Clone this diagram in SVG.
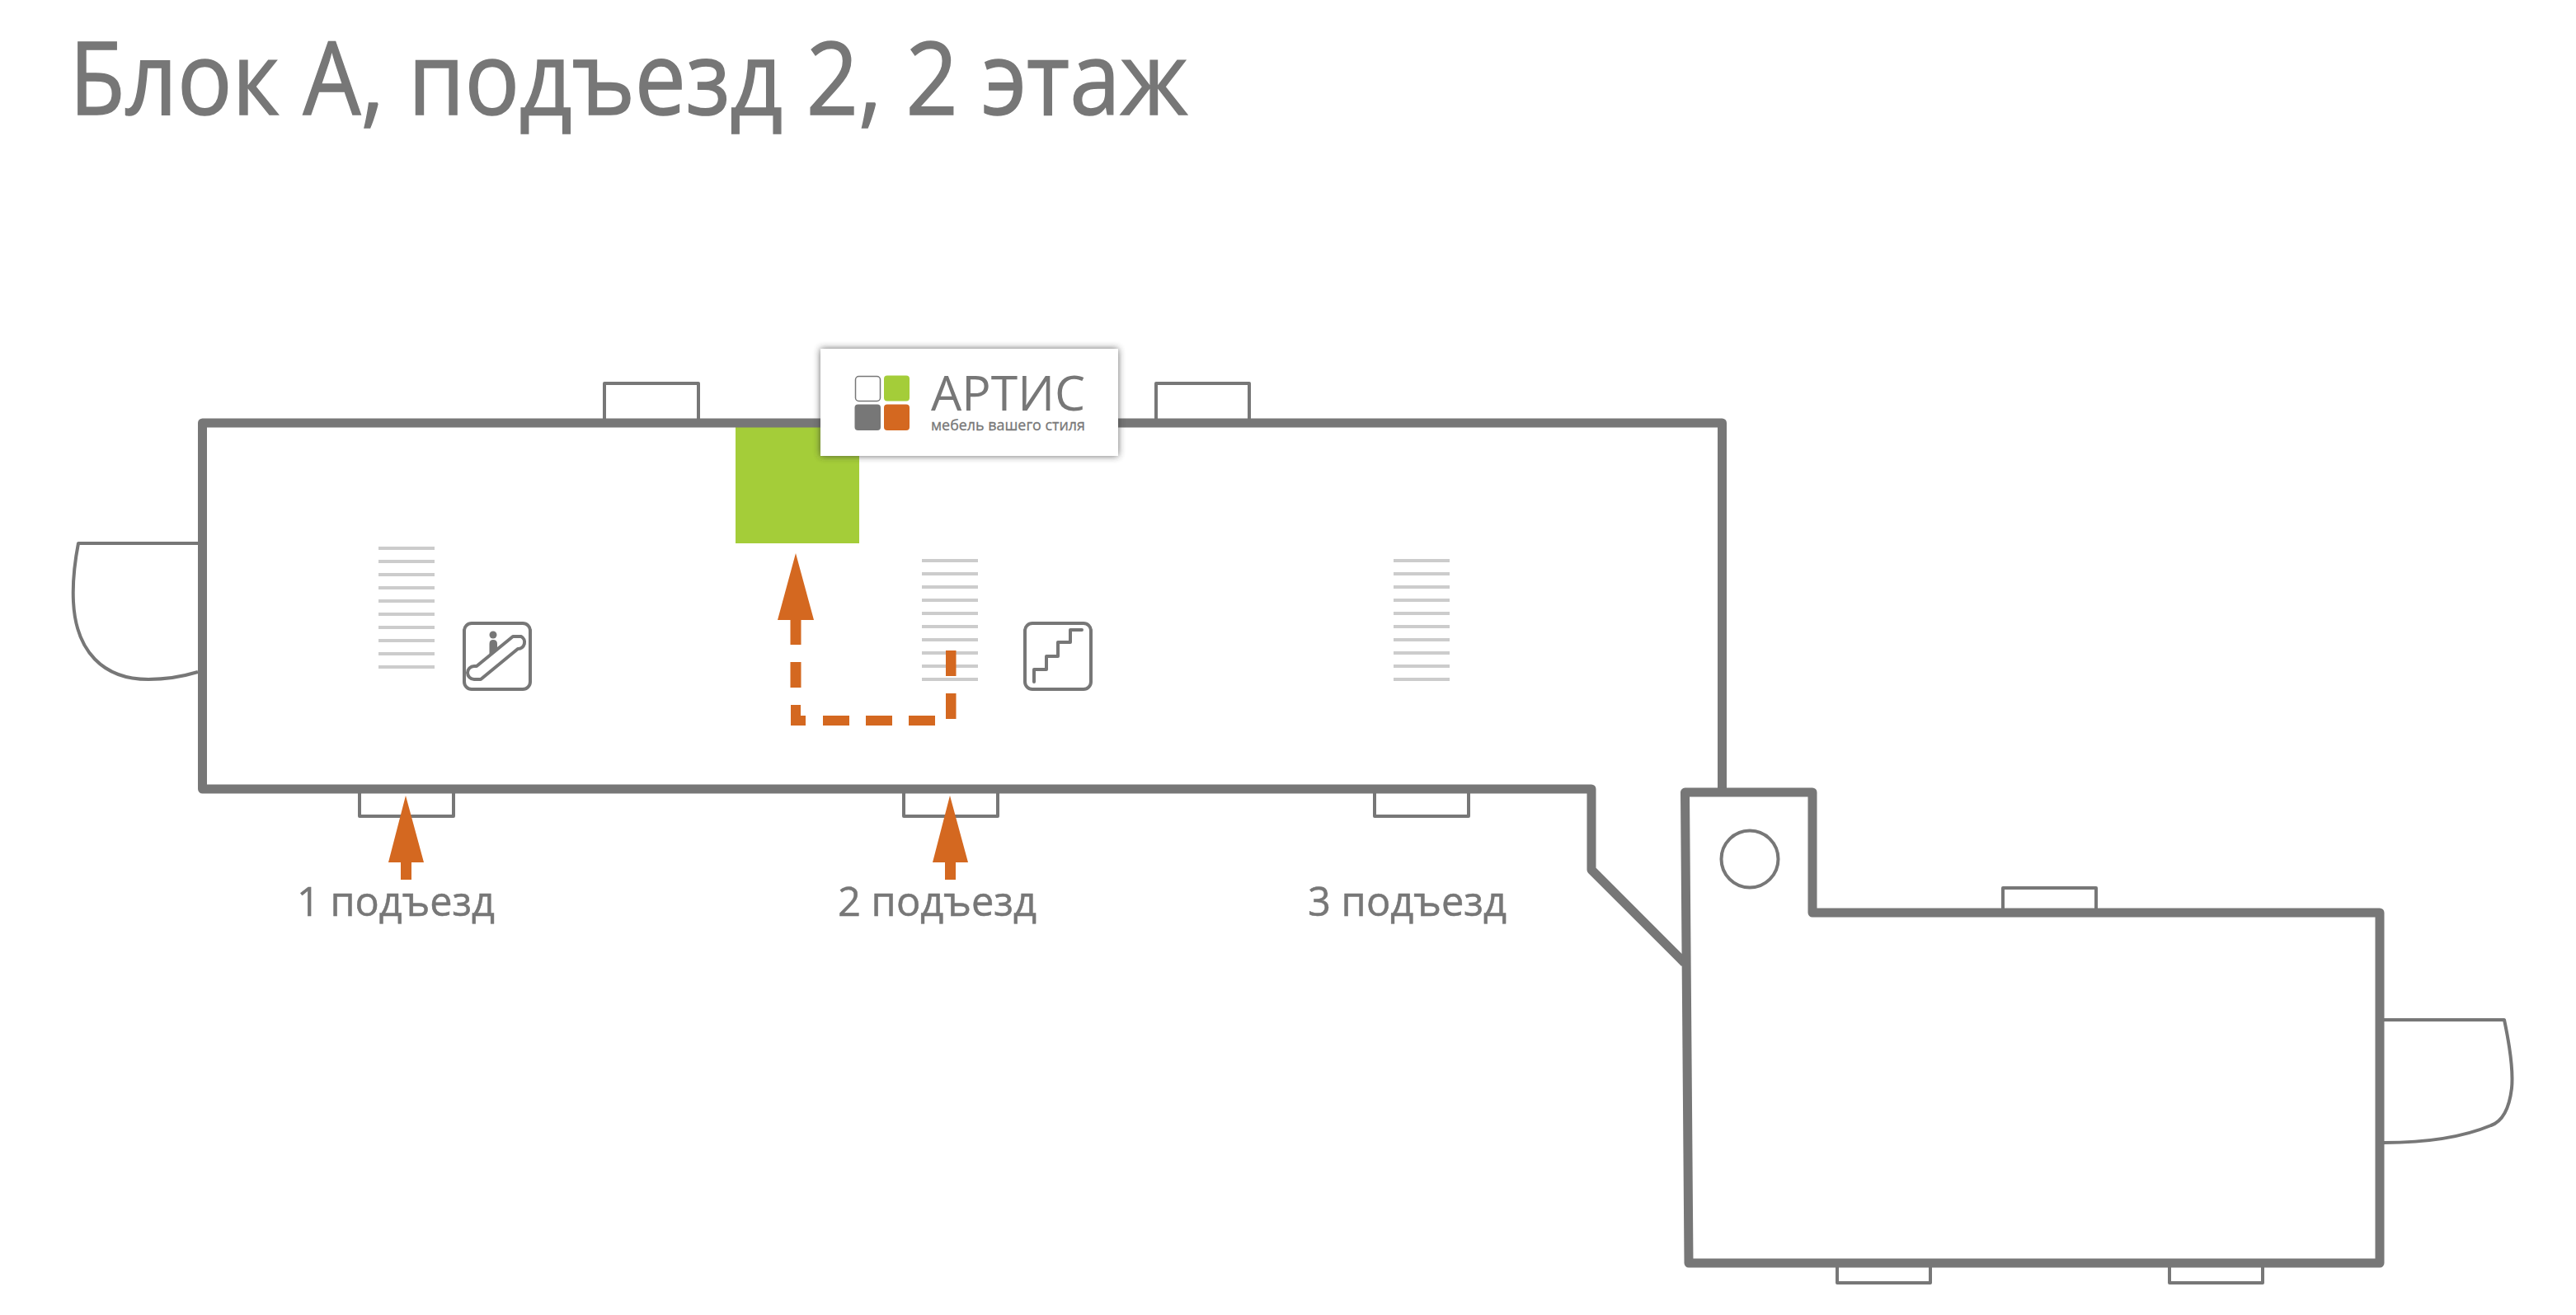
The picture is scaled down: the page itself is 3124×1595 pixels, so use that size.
<svg xmlns="http://www.w3.org/2000/svg" width="3124" height="1595" viewBox="0 0 3124 1595">
<style>
.t{font-family:"Open Sans","Noto Sans","Liberation Sans",sans-serif;fill:#777}
.wall{fill:none;stroke:#777;stroke-width:11;stroke-linejoin:round;stroke-linecap:butt}
.thin{fill:none;stroke:#777;stroke-width:4;stroke-linejoin:round}
.icon{fill:none;stroke:#777;stroke-width:4;stroke-linejoin:round;stroke-linecap:round}
.stair{stroke:#ccc;stroke-width:4}
.o{fill:#d46820}
</style>
<defs>
<filter id="sh" x="-10%" y="-15%" width="120%" height="130%"><feGaussianBlur stdDeviation="4"/></filter>
<g id="st"><path class="stair" d="M0 0h68M0 16h68M0 32h68M0 48h68M0 64h68M0 80h68M0 96h68M0 112h68M0 128h68M0 144h68"/></g>
</defs>
<rect width="3124" height="1595" fill="#fff"/>
<text class="t" id="title" x="84" y="139" font-size="122" textLength="1356" lengthAdjust="spacingAndGlyphs" stroke="#777" stroke-width="1.500">Блок А, подъезд 2, 2 этаж</text>

<g id="doors">
<path class="thin" d="M240 659H95C89 690 88 710 89 730C92 790 125 824 180 824C200 824 220 821 240 815"/>
<path class="thin" d="M2891 1237H3037C3045 1275 3048 1300 3046 1320C3043 1345 3035 1360 3021 1365C2985 1380 2940 1386 2891 1386"/>
<path class="thin" d="M733 510V465H847V510"/>
<path class="thin" d="M1402 510V465H1515V510"/>
<path class="thin" d="M436 960V990H550V960"/>
<path class="thin" d="M1096 960V990H1210V960"/>
<path class="thin" d="M1667 960V990H1781V960"/>
<path class="thin" d="M2429 1104V1077H2542V1104"/>
<path class="thin" d="M2228 1535V1556H2341V1535"/>
<path class="thin" d="M2631 1535V1556H2744V1535"/>
</g>
<rect id="shop" x="892" y="513" width="150" height="146" fill="#a4cd39"/>
<g id="walls">
<path class="wall" d="M2088.500 961V513H245.500V957H1930V1055L2043 1168"/>
<path class="wall" d="M2048 1532L2043.500 961H2198V1107H2886V1532Z"/>
</g>
<circle id="lift" class="thin" cx="2122" cy="1042" r="34.500"/>
<g id="stairs">
<use href="#st" x="459" y="665"/>
<use href="#st" x="1118" y="680"/>
<use href="#st" x="1690" y="680"/>
</g>
<g id="escalator">
<rect class="icon" x="563" y="756" width="80" height="80" rx="9"/>
<circle cx="598" cy="770" r="4.500" fill="#777"/>
<path d="M593.500 795V781Q593.500 776 598 776Q603 776 603 781V787Z" fill="#777"/>
<path class="icon" d="M578 808L622 772H632A8 8 0 0 1 628 787L583 824H575A8 8 0 0 1 575 808Z"/>
</g>
<g id="staircase">
<rect class="icon" x="1243" y="756" width="80" height="80" rx="9"/>
<path class="icon" d="M1254 827V812H1269V796H1283V779H1298V764H1312"/>
</g>
<g id="route" class="o">
<path d="M965 671L987 752H971.500V782H958.500V752H943Z"/>
<rect x="958.500" y="803" width="13" height="31"/>
<path d="M959 855H971V868H977V880H959Z"/>
<rect x="998" y="868" width="32" height="12"/>
<rect x="1050" y="868" width="32" height="12"/>
<rect x="1102" y="868" width="32" height="12"/>
<rect x="1147" y="841" width="12.500" height="31"/>
<rect x="1147" y="789" width="12.500" height="31"/>
</g>
<g id="arrow1" class="o"><path d="M492 965L514 1046H499V1067H486V1046H471Z"/></g>
<g id="arrow2" class="o"><path d="M1152 965L1174 1046H1159V1067H1146V1046H1131Z"/></g>
<g id="labels">
<text class="t" x="360" y="1111" font-size="50" textLength="240" lengthAdjust="spacingAndGlyphs" stroke="#777" stroke-width=".5">1 подъезд</text>
<text class="t" x="1016" y="1111" font-size="50" textLength="241" lengthAdjust="spacingAndGlyphs" stroke="#777" stroke-width=".5">2 подъезд</text>
<text class="t" x="1586" y="1111" font-size="50" textLength="241" lengthAdjust="spacingAndGlyphs" stroke="#777" stroke-width=".5">3 подъезд</text>
</g>
<g id="logo">
<rect x="995" y="423" width="361" height="130" fill="#333" opacity=".75" filter="url(#sh)"/>
<rect x="995" y="423" width="361" height="130" fill="#fff"/>
<rect x="1037.500" y="456.500" width="30" height="30" rx="4" fill="#fff" stroke="#777" stroke-width="1.500"/>
<rect x="1072" y="455.500" width="31" height="31" rx="4" fill="#a4cd39"/>
<rect x="1036.500" y="490.500" width="31.500" height="31.500" rx="4" fill="#777"/>
<rect x="1072" y="490.500" width="31" height="31.500" rx="4" fill="#d46820"/>
<text class="t" x="1129" y="498" font-size="58" textLength="187" lengthAdjust="spacingAndGlyphs">АРТИС</text>
<text class="t" x="1129" y="522" font-size="18" textLength="187" lengthAdjust="spacingAndGlyphs" stroke="#777" stroke-width=".3">мебель вашего стиля</text>
</g>
</svg>
